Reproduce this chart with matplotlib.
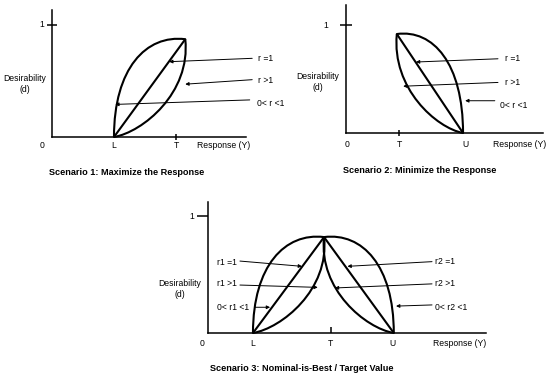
import matplotlib.pyplot as plt
from matplotlib.path import Path
from matplotlib.patches import PathPatch

plt.rcParams['font.family'] = ['Liberation Sans', 'DejaVu Sans']

# Bezier control points of the bent curves, from the base point (0, 0) to the peak (1, 1)
bow_out = [(0, 0), (0, 0.70), (0.45, 1.05), (1, 1)]    # 0 < r < 1
bow_in = [(0, 0), (0.40, 0.05), (1.08, 0.45), (1, 1)]  # r > 1

# Scenario 1: maximize
s1_base = (1.0, 0.0)
s1_peak = (2.15, 0.87)
s1_limits = (3.13, 1.13)
s1_ticks = [2.0]
s1_axis_text = ['0', 'L', 'T', 'Response (Y)']
s1_axis_x = [-0.16, 1.0, 2.0, 2.77]
s1_names = ['r =1', 'r >1', '0< r <1']
s1_tails = [(3.23, 0.70), (3.23, 0.51), (3.19, 0.33)]
s1_heads = [(1.89, 0.67), (2.15, 0.47), (1.02, 0.29)]
s1_name_pos = [(3.32, 0.70), (3.32, 0.50), (3.30, 0.30)]

# Scenario 2: minimize
s2_base = (2.21, 0.0)
s2_peak = (0.96, 0.92)
s2_limits = (3.72, 1.19)
s2_ticks = [1.0]
s2_axis_text = ['0', 'T', 'U', 'Response (Y)']
s2_axis_x = [0.02, 1.0, 2.25, 3.28]
s2_names = ['r =1', 'r >1', '0< r <1']
s2_tails = [(2.87, 0.69), (2.87, 0.47), (2.81, 0.30)]
s2_heads = [(1.32, 0.66), (1.08, 0.435), (2.25, 0.30)]
s2_name_pos = [(3.00, 0.69), (3.00, 0.47), (2.91, 0.26)]

# Scenario 3: nominal is best
s3_low = (1.0, 0.0)
s3_high = (4.13, 0.0)
s3_peak = (2.58, 0.82)
s3_limits = (6.18, 1.12)
s3_ticks = [2.73]
s3_axis_text = ['0', 'L', 'T', 'U', 'Response (Y)']
s3_axis_x = [-0.13, 1.0, 2.73, 4.11, 5.6]
s3_names = ['r1 =1', 'r1 >1', '0< r1 <1', 'r2 =1', 'r2 >1', '0< r2 <1']
s3_tails = [(0.71, 0.615), (0.71, 0.41), (1.04, 0.22),
            (4.98, 0.61), (4.98, 0.42), (4.98, 0.24)]
s3_heads = [(2.09, 0.57), (2.44, 0.39), (1.38, 0.22),
            (3.10, 0.57), (2.82, 0.385), (4.18, 0.23)]
s3_name_pos = [(0.19, 0.60), (0.19, 0.42), (0.19, 0.22),
               (5.04, 0.61), (5.04, 0.42), (5.04, 0.22)]

W, H = 550, 379
fig = plt.figure(figsize=(W / 100, H / 100), dpi=100)
FS = 6.2
LW = 1.5


def panel(box, limits):
    # box = pixel corners of the two axis lines (left, top, right, bottom)
    x0, y0, x1, y1 = box
    ax = fig.add_axes([x0 / W, 1 - y1 / H, (x1 - x0) / W, (y1 - y0) / H])
    ax.set_xlim(0, limits[0])
    ax.set_ylim(0, limits[1])
    ax.patch.set_visible(False)
    for side in ['top', 'right']:
        ax.spines[side].set_visible(False)
    for side in ['left', 'bottom']:
        ax.spines[side].set_linewidth(1.1)
    ax.set_yticks([1])
    ax.tick_params(labelbottom=False, labelleft=False, width=1.1)
    return ax


def bent(ax, base, peak, shape):
    verts = [(base[0] + u * (peak[0] - base[0]), base[1] + v * (peak[1] - base[1]))
             for u, v in shape]
    codes = [Path.MOVETO, Path.CURVE4, Path.CURVE4, Path.CURVE4]
    ax.add_patch(PathPatch(Path(verts, codes), fill=False, lw=LW, clip_on=False))


def straight(ax, base, peak):
    ax.plot([base[0], peak[0]], [base[1], peak[1]], color='black', lw=LW,
            solid_capstyle='round', clip_on=False)


def texts(ax, axis_text, axis_x, label_y, desir_x, desir_y, one_x, title, title_xy):
    for t, x in zip(axis_text, axis_x):
        ax.text(x, label_y, t, fontsize=FS, ha='center', va='center')
    ax.text(desir_x, desir_y, 'Desirability\n(d)', fontsize=FS, ha='center', va='center',
            linespacing=1.3)
    ax.text(one_x, 1.0, '1', fontsize=FS, ha='center', va='center')
    ax.text(title_xy[0], title_xy[1], title, fontsize=6.6, fontweight='bold',
            ha='center', va='center')


def arrows(ax, names, tails, heads, name_pos):
    for name, tail, head, pos in zip(names, tails, heads, name_pos):
        ax.annotate('', xy=head, xytext=tail, annotation_clip=False,
                    arrowprops=dict(arrowstyle='-|>', color='black', lw=0.7,
                                    mutation_scale=5, shrinkA=0, shrinkB=0))
        ax.text(pos[0], pos[1], name, fontsize=FS, ha='left', va='center')


# Scenario 1
ax1 = panel((52, 10, 246, 137), s1_limits)
ax1.set_xticks(s1_ticks)
ax1.tick_params(axis='x', direction='inout', length=5)
ax1.tick_params(axis='y', direction='inout', length=7.2)
bent(ax1, s1_base, s1_peak, bow_out)
bent(ax1, s1_base, s1_peak, bow_in)
straight(ax1, s1_base, s1_peak)
arrows(ax1, s1_names, s1_tails, s1_heads, s1_name_pos)
texts(ax1, s1_axis_text, s1_axis_x, -0.08, -0.44, 0.47, -0.16,
      'Scenario 1: Maximize the Response', (1.21, -0.32))

# Scenario 2
ax2 = panel((346, 5, 543, 133), s2_limits)
ax2.set_xticks(s2_ticks)
ax2.tick_params(axis='x', direction='inout', length=5)
ax2.tick_params(axis='y', direction='inout', length=8)
bent(ax2, s2_base, s2_peak, bow_out)
bent(ax2, s2_base, s2_peak, bow_in)
straight(ax2, s2_base, s2_peak)
arrows(ax2, s2_names, s2_tails, s2_heads, s2_name_pos)
texts(ax2, s2_axis_text, s2_axis_x, -0.11, -0.53, 0.47, -0.38,
      'Scenario 2: Minimize the Response', (1.40, -0.35))

# Scenario 3
ax3 = panel((208, 202, 486, 333), s3_limits)
ax3.set_xticks(s3_ticks)
ax3.tick_params(axis='x', direction='in', length=4.3)
ax3.tick_params(axis='y', direction='out', length=8)
for base in [s3_low, s3_high]:
    bent(ax3, base, s3_peak, bow_out)
    bent(ax3, base, s3_peak, bow_in)
    straight(ax3, base, s3_peak)
arrows(ax3, s3_names, s3_tails, s3_heads, s3_name_pos)
texts(ax3, s3_axis_text, s3_axis_x, -0.094, -0.62, 0.38, -0.36,
      'Scenario 3: Nominal-is-Best / Target Value', (2.09, -0.30))

fig.savefig('out.png', dpi=100)
